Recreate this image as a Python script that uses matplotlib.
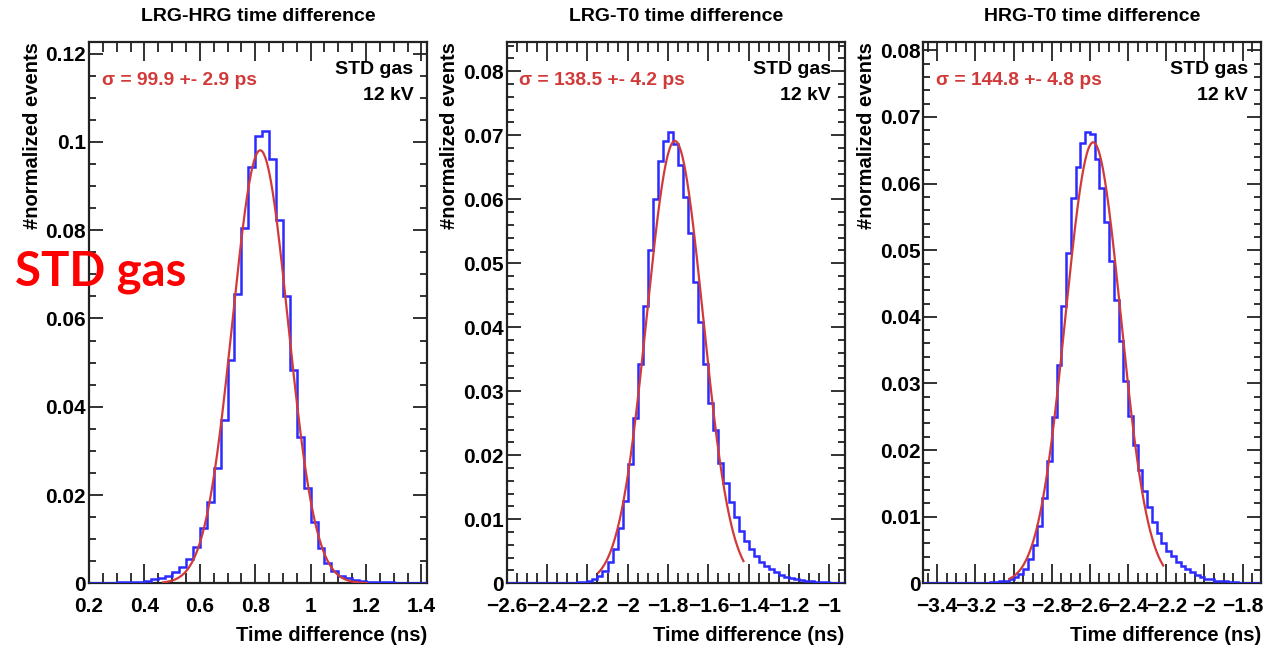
import numpy as np
import matplotlib
matplotlib.use('Agg')
import matplotlib.pyplot as plt
from matplotlib.ticker import MultipleLocator

plt.rcParams['font.family'] = ['Liberation Sans', 'DejaVu Sans']
plt.rcParams['font.weight'] = 'bold'
plt.rcParams['axes.unicode_minus'] = True

# Datos de los histogramas (contenido normalizado por bin)
titles = ['LRG-HRG time difference', 'LRG-T0 time difference', 'HRG-T0 time difference']
sigma_labels = ['σ = 99.9 +- 2.9 ps', 'σ = 138.5 +- 4.2 ps', 'σ = 144.8 +- 4.8 ps']
bin_width = 0.025
first_edge = [0.2, -2.6, -3.475]

counts_lrg_hrg = [
    0.0001, 0.0001, 0.0001, 0.0001, 0.0002, 0.0002, 0.0003, 0.0004, 0.0006, 0.0009,
    0.0012, 0.0017, 0.0025, 0.0038, 0.0056, 0.0082, 0.0126, 0.0184, 0.0262, 0.0371,
    0.0506, 0.0655, 0.0806, 0.0944, 0.1014, 0.1024, 0.0961, 0.0822, 0.0651, 0.0483,
    0.0332, 0.0216, 0.0139, 0.0080, 0.0047, 0.0028, 0.0017, 0.0011, 0.0007, 0.0005,
    0.0004, 0.0003, 0.0002, 0.0002, 0.0001, 0.0001, 0.0001, 0.0001, 0.0000,
]
counts_lrg_t0 = [
    0.0000, 0.0000, 0.0000, 0.0000, 0.0000, 0.0000, 0.0000, 0.0001, 0.0001, 0.0001,
    0.0001, 0.0001, 0.0001, 0.0001, 0.0002, 0.0002, 0.0003, 0.0006, 0.0012, 0.0019,
    0.0033, 0.0054, 0.0087, 0.0129, 0.0187, 0.0258, 0.0342, 0.0433, 0.0521, 0.0600,
    0.0659, 0.0691, 0.0705, 0.0686, 0.0653, 0.0604, 0.0547, 0.0471, 0.0408, 0.0342,
    0.0282, 0.0239, 0.0188, 0.0156, 0.0127, 0.0104, 0.0082, 0.0066, 0.0053, 0.0042,
    0.0034, 0.0027, 0.0022, 0.0017, 0.0013, 0.0010, 0.0008, 0.0006, 0.0005, 0.0004,
    0.0003, 0.0002, 0.0002, 0.0002, 0.0001, 0.0001, 0.0001,
]
counts_hrg_t0 = [
    0.0000, 0.0000, 0.0000, 0.0000, 0.0000, 0.0000, 0.0000, 0.0001, 0.0001, 0.0001,
    0.0001, 0.0001, 0.0001, 0.0001, 0.0002, 0.0002, 0.0003, 0.0004, 0.0006, 0.0009,
    0.0014, 0.0022, 0.0037, 0.0057, 0.0086, 0.0128, 0.0183, 0.0250, 0.0328, 0.0416,
    0.0496, 0.0578, 0.0625, 0.0661, 0.0677, 0.0675, 0.0637, 0.0593, 0.0543, 0.0484,
    0.0426, 0.0364, 0.0304, 0.0251, 0.0207, 0.0170, 0.0139, 0.0115, 0.0092, 0.0075,
    0.0061, 0.0048, 0.0041, 0.0032, 0.0026, 0.0021, 0.0017, 0.0012, 0.0010, 0.0007,
    0.0006, 0.0004, 0.0003, 0.0003, 0.0002, 0.0002, 0.0001, 0.0001, 0.0001, 0.0001,
    0.0000,
]
all_counts = [counts_lrg_hrg, counts_lrg_t0, counts_hrg_t0]

# Parametros del ajuste gaussiano: amplitud, media (ns), sigma (ns), rango
fit_amp = [0.0981, 0.0691, 0.0662]
fit_mean = [0.818, -1.766, -2.583]
fit_sigma = [0.100, 0.139, 0.1448]
fit_range = [(0.468, 1.203), (-2.146, -1.426), (-3.022, -2.216)]

# Ejes
x_limits = [(0.2, 1.42), (-2.6, -0.924), (-3.473, -1.702)]
y_limits = [(0, 0.1227), (0, 0.0846), (0, 0.0813)]
y_major = [0.02, 0.01, 0.01]
y_minor = [0.005, 0.002, 0.002]
x_ticks = [
    [0.2, 0.4, 0.6, 0.8, 1.0, 1.2, 1.4],
    [-2.6, -2.4, -2.2, -2.0, -1.8, -1.6, -1.4, -1.2, -1.0],
    [-3.4, -3.2, -3.0, -2.8, -2.6, -2.4, -2.2, -2.0, -1.8],
]

W, H = 1286, 649
fig = plt.figure(figsize=(W / 100, H / 100), dpi=100)
lefts = [89, 506.7, 923.3]
ax_w = 338
ax_top, ax_bot = 41.7, 583.3

hist_color = '#2b2bff'
fit_color = '#d23a3a'


def fmt_tick(v):
    s = f'{v:g}'
    return s.replace('-', '\u2212')


for i in range(3):
    ax = fig.add_axes([lefts[i] / W, 1 - ax_bot / H, ax_w / W, (ax_bot - ax_top) / H])
    counts = np.array(all_counts[i])
    edges = first_edge[i] + bin_width * np.arange(len(counts) + 1)
    ax.stairs(counts, edges, color=hist_color, lw=1.8, baseline=None, zorder=3)

    xs = np.linspace(fit_range[i][0], fit_range[i][1], 300)
    ys = fit_amp[i] * np.exp(-0.5 * ((xs - fit_mean[i]) / fit_sigma[i]) ** 2)
    ax.plot(xs, ys, color=fit_color, lw=1.6, zorder=4)

    ax.set_xlim(*x_limits[i])
    ax.set_ylim(*y_limits[i])
    ax.set_xticks(x_ticks[i])
    ax.set_xticklabels([fmt_tick(v) for v in x_ticks[i]])
    ax.xaxis.set_minor_locator(MultipleLocator(0.05))
    ax.yaxis.set_major_locator(MultipleLocator(y_major[i]))
    ax.yaxis.set_minor_locator(MultipleLocator(y_minor[i]))
    ax.yaxis.set_major_formatter(plt.FuncFormatter(lambda v, p: f'{v:g}'))

    ax.tick_params(axis='both', which='both', direction='in', top=True, right=True,
                   labelsize=15, width=1.3, color='#222222')
    ax.tick_params(axis='x', which='major', length=14, pad=10)
    ax.tick_params(axis='x', which='minor', length=7)
    ax.tick_params(axis='y', which='major', length=10, pad=2)
    ax.tick_params(axis='y', which='minor', length=5)
    for sp in ax.spines.values():
        sp.set_linewidth(1.6)
        sp.set_color('#222222')

    ax.set_ylabel('#normalized events', fontsize=14.5, fontweight='bold', loc='top')
    ax.yaxis.set_label_coords(-0.14, 1.0)
    ax.set_xlabel('Time difference (ns)', fontsize=14.5, fontweight='bold', loc='right')
    ax.xaxis.set_label_coords(1.0, -0.078)

    ax.text(0.5, 1.047, titles[i], transform=ax.transAxes, ha='center', va='center',
            fontsize=14, fontweight='bold')
    ax.text(0.037, 0.928, sigma_labels[i], transform=ax.transAxes, ha='left', va='center',
            fontsize=13.8, fontweight='bold', color=fit_color)
    ax.text(0.96, 0.948, 'STD gas', transform=ax.transAxes, ha='right', va='center',
            fontsize=14, fontweight='bold')
    ax.text(0.96, 0.9, '12 kV', transform=ax.transAxes, ha='right', va='center',
            fontsize=14, fontweight='bold')

fig.text(15 / W, 1 - 272 / H, 'STD gas', ha='left', va='center', color='#ff0000',
         fontsize=34, fontweight='bold', family=['Lato', 'DejaVu Sans'])

fig.savefig('out.png', dpi=100, facecolor='white')
